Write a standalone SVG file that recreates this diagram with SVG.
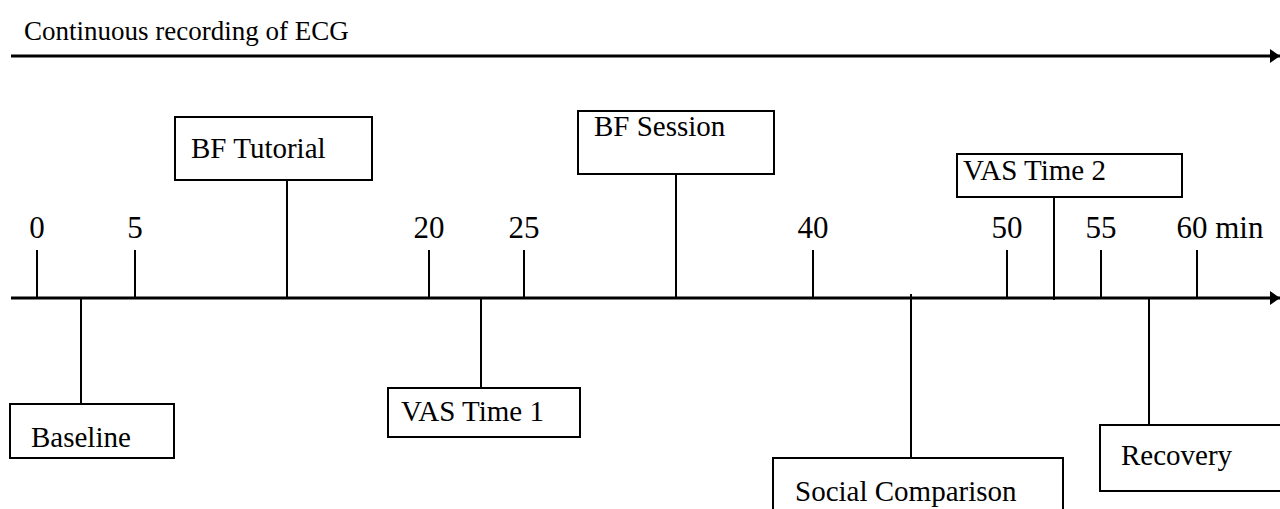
<svg xmlns="http://www.w3.org/2000/svg" width="1280" height="509" viewBox="0 0 1280 509">
  <style>
    text { font-family: "Liberation Serif", "Times New Roman", serif; font-size: 29px; fill: #000; }
    .title { font-size: 27px; }
    .tl { font-size: 31px; text-anchor: middle; }
    .box rect { fill: #fff; stroke: #000; stroke-width: 2; }
    .axis { stroke: #000; stroke-width: 3; fill: none; }
    .tick, .lead { stroke: #000; stroke-width: 2; fill: none; }
  </style>
  <defs>
    <marker id="head" viewBox="0 0 10 14" refX="10" refY="7" markerWidth="10" markerHeight="14" orient="auto" markerUnits="userSpaceOnUse">
      <path d="M0,0 L10,7 L0,14 z" fill="#000"/>
    </marker>
  </defs>

  <text class="title" x="24" y="40">Continuous recording of ECG</text>

  <g id="connectors">
    <!-- ECG recording arrow -->
    <line class="axis" x1="11" y1="56" x2="1280" y2="56" marker-end="url(#head)"/>
    <!-- time axis -->
    <line class="axis" x1="11" y1="298" x2="1280" y2="298" marker-end="url(#head)"/>
    <!-- minute ticks -->
    <line class="tick" x1="37" y1="250" x2="37" y2="298"/>
    <line class="tick" x1="135" y1="250" x2="135" y2="298"/>
    <line class="tick" x1="429" y1="250" x2="429" y2="298"/>
    <line class="tick" x1="524" y1="250" x2="524" y2="298"/>
    <line class="tick" x1="813" y1="250" x2="813" y2="298"/>
    <line class="tick" x1="1007" y1="250" x2="1007" y2="298"/>
    <line class="tick" x1="1101" y1="250" x2="1101" y2="298"/>
    <line class="tick" x1="1197" y1="250" x2="1197" y2="298"/>
    <!-- leaders from axis to phase boxes -->
    <line class="lead" x1="287" y1="180" x2="287" y2="298"/>
    <line class="lead" x1="676" y1="174" x2="676" y2="298"/>
    <line class="lead" x1="1054" y1="197" x2="1054" y2="300"/>
    <line class="lead" x1="81" y1="298" x2="81" y2="404"/>
    <line class="lead" x1="481" y1="298" x2="481" y2="388"/>
    <line class="lead" x1="911" y1="294" x2="911" y2="458"/>
    <line class="lead" x1="1149" y1="298" x2="1149" y2="425"/>
  </g>

  <g id="tick-labels">
    <text class="tl" x="37" y="238">0</text>
    <text class="tl" x="135" y="238">5</text>
    <text class="tl" x="429" y="238">20</text>
    <text class="tl" x="524" y="238">25</text>
    <text class="tl" x="813" y="238">40</text>
    <text class="tl" x="1007" y="238">50</text>
    <text class="tl" x="1101" y="238">55</text>
    <text class="tl" x="1220" y="238">60 min</text>
  </g>

  <g id="bf-tutorial" class="box">
    <rect x="175" y="117" width="197" height="63"/>
    <text x="191" y="158">BF Tutorial</text>
  </g>
  <g id="bf-session" class="box">
    <rect x="578" y="111" width="196" height="63"/>
    <text x="594" y="136">BF Session</text>
  </g>
  <g id="vas-time-2" class="box">
    <rect x="957" y="154" width="225" height="43"/>
    <text x="963" y="180">VAS Time 2</text>
  </g>
  <g id="baseline" class="box">
    <rect x="10" y="404" width="164" height="54"/>
    <text x="31" y="447">Baseline</text>
  </g>
  <g id="vas-time-1" class="box">
    <rect x="388" y="388" width="192" height="49"/>
    <text x="401" y="421">VAS Time 1</text>
  </g>
  <g id="social-comparison" class="box">
    <rect x="773" y="458" width="290" height="60"/>
    <text x="795" y="501">Social Comparison</text>
  </g>
  <g id="recovery" class="box">
    <rect x="1100" y="425" width="190" height="66"/>
    <text x="1121" y="465">Recovery</text>
  </g>
</svg>
